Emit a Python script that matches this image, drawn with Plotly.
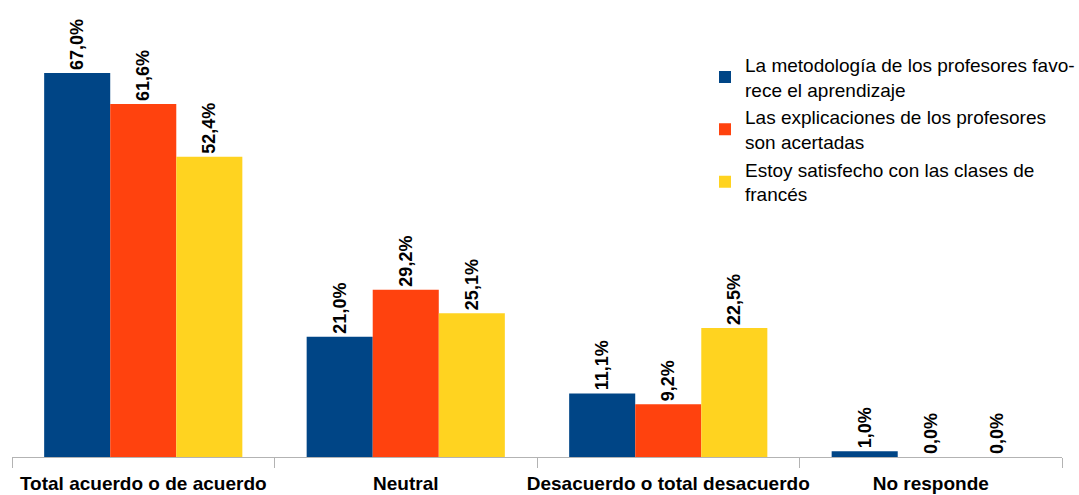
import plotly.graph_objects as go

categories = ["Total acuerdo o de acuerdo", "Neutral", "Desacuerdo o total desacuerdo", "No responde"]

serie_metodologia = [67.0, 21.0, 11.1, 1.0]
serie_explicaciones = [61.6, 29.2, 9.2, 0.0]
serie_satisfecho = [52.4, 25.1, 22.5, 0.0]

series_names = [
    "La metodología de los profesores favo-<br>rece el aprendizaje",
    "Las explicaciones de los profesores<br>son acertadas",
    "Estoy satisfecho con las clases de<br>francés",
]
colors = ["#004586", "#ff420e", "#ffd320"]

fig = go.Figure()
for name, values, color in zip(series_names, [serie_metodologia, serie_explicaciones, serie_satisfecho], colors):
    fig.add_trace(go.Bar(
        x=categories,
        y=values,
        name=name,
        marker=dict(color=color, line=dict(width=0)),
        texttemplate="%{y:.1f}%",
        textposition="outside",
        textangle=-90,
        cliponaxis=False,
        textfont=dict(family="Liberation Sans", size=18, color="#000000", weight="bold"),
    ))

fig.update_layout(
    width=1079,
    height=495,
    separators=",.",
    barmode="group",
    bargap=0.245,
    bargroupgap=0,
    plot_bgcolor="white",
    paper_bgcolor="white",
    margin=dict(l=12, r=17, t=0, b=38, autoexpand=False),
    font=dict(family="Liberation Sans", size=19, color="#000000"),
    legend=dict(
        x=0.660,
        y=0.90,
        xanchor="left",
        yanchor="top",
        bgcolor="rgba(0,0,0,0)",
        font=dict(family="Liberation Sans", size=19, color="#000000"),
        itemwidth=30,
        tracegroupgap=0,
    ),
    xaxis=dict(
        showline=True,
        linecolor="#b3b3b3",
        linewidth=1,
        ticks="outside",
        tickson="boundaries",
        ticklen=10,
        tickcolor="#b3b3b3",
        tickangle=0,
        ticklabelstandoff=9,
        automargin=False,
        tickfont=dict(family="Liberation Sans", size=19, color="#000000", weight="bold"),
        showgrid=False,
        zeroline=False,
    ),
    yaxis=dict(
        range=[0, 79.74],
        visible=False,
        showgrid=False,
        zeroline=False,
    ),
)

fig.write_html("out.html")
